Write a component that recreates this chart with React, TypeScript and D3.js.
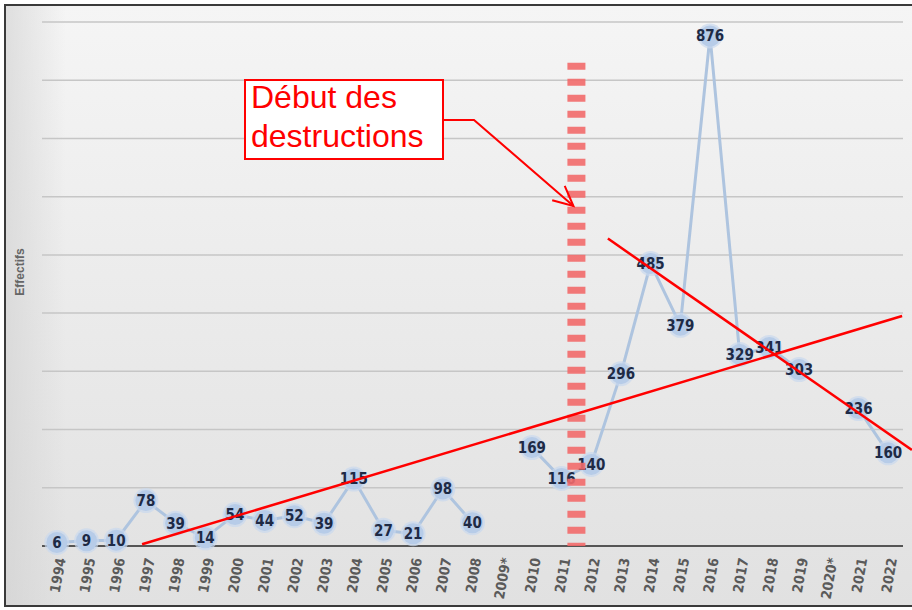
import React from "react";
import * as d3 from "d3";

const years = ["1994","1995","1996","1997","1998","1999","2000","2001","2002","2003","2004","2005","2006","2007","2008","2009*","2010","2011","2012","2013","2014","2015","2016","2017","2018","2019","2020*","2021","2022"];
const effectifs: (number | null)[] = [6,9,10,78,39,14,54,44,52,39,115,27,21,98,40,null,169,116,140,296,485,379,876,329,341,303,null,236,160];
const yTicks = [0,100,200,300,400,500,600,700,800,900];

// annotation anchors in data units (x = category index, y = effectif)
const trendUp = [{ x: 2.87, y: 3 }, { x: 28.47, y: 395 }];
const trendDown = [{ x: 18.56, y: 528 }, { x: 28.8, y: 165 }];
const destructionX = 17.5;
const destructionTop = 830;
const annotationLines = ["Début des", "destructions"];

const W = 912, H = 610;
const plotLeft = 42, plotRight = 903, plotTop = 22, plotBottom = 546;

export default function App() {
  const x = d3.scaleLinear().domain([-0.5, years.length - 0.5]).range([plotLeft, plotRight]);
  const y = d3.scaleLinear().domain([0, 900]).range([plotBottom, plotTop]);
  const pts = effectifs.map((v, i) => ({ i, v }));
  const line = d3.line<{ i: number; v: number | null }>()
    .defined(d => d.v !== null)
    .x(d => x(d.i))
    .y(d => y(d.v as number));
  const tl = d3.line<{ x: number; y: number }>().x(d => x(d.x)).y(d => y(d.y));

  // annotation box geometry
  const bx = 245, by = 80, bw = 198, bh = 79;
  const tipX = x(17.4), tipY = y(584);
  const elbowX = 474, elbowY = 120;
  const ang = Math.atan2(tipY - elbowY, tipX - elbowX);
  const ah = 22, aw = 0.45;
  const a1 = [tipX - ah * Math.cos(ang - aw), tipY - ah * Math.sin(ang - aw)];
  const a2 = [tipX - ah * Math.cos(ang + aw), tipY - ah * Math.sin(ang + aw)];

  const numFont = "Liberation Sans Narrow, DejaVu Sans Condensed, Arial Narrow, sans-serif";

  return (
    <svg width={W} height={H} style={{ position: "absolute", left: 0, top: 0, display: "block" }}>
      <defs>
        <linearGradient id="bg" x1="0" y1="0" x2="0" y2="1">
          <stop offset="0" stopColor="#f5f5f5" />
          <stop offset="1" stopColor="#e1e1e1" />
        </linearGradient>
        <linearGradient id="side" x1="0" y1="0" x2="1" y2="0">
          <stop offset="0" stopColor="#d0d0d0" stopOpacity="0.6" />
          <stop offset="1" stopColor="#d0d0d0" stopOpacity="0" />
        </linearGradient>
      </defs>
      <rect x={0} y={0} width={W} height={H} fill="#ffffff" />
      <rect x={5} y={5} width={W + 10} height={601} fill="url(#bg)" stroke="#3a3a3a" strokeWidth={2} />
      <rect x={6} y={6} width={60} height={599} fill="url(#side)" />

      {yTicks.slice(1).map(t => (
        <line key={t} x1={plotLeft} x2={plotRight} y1={y(t)} y2={y(t)} stroke="#c6c6c6" strokeWidth={1.5} />
      ))}
      <line x1={plotLeft} x2={plotRight} y1={y(0)} y2={y(0)} stroke="#555" strokeWidth={2} />

      <text transform={`translate(24,272) rotate(-90)`} textAnchor="middle" fontFamily="Liberation Sans, Arial, sans-serif" fontWeight="bold" fontSize={12} fill="#666">Effectifs</text>

      {years.map((yr, i) => (
        <text key={yr} transform={`translate(${x(i) + 4},${plotBottom + 12}) rotate(-80)`} textAnchor="end" dy="0.35em"
          fontFamily={numFont} fontWeight="bold" fontSize={14} fill="#5a5a5a">{yr}</text>
      ))}

      <path d={line(pts) || ""} fill="none" stroke="#aec4df" strokeWidth={3} />
      {pts.filter(d => d.v !== null).map(d => (
        <g key={d.i}>
          <circle cx={x(d.i)} cy={y(d.v as number)} r={12.5} fill="#c9d9ee" opacity={0.7} />
          <circle cx={x(d.i)} cy={y(d.v as number)} r={10.5} fill="#b7cce8" />
          <text x={x(d.i)} y={y(d.v as number)} dy="0.36em" textAnchor="middle" fontFamily={numFont} fontWeight="bold" fontSize={15} fill="#1e2a45">{d.v}</text>
        </g>
      ))}

      <line x1={x(destructionX)} x2={x(destructionX)} y1={y(destructionTop)} y2={y(0)} stroke="#f26a6a" strokeOpacity={0.9} strokeWidth={18} strokeDasharray="7 9" />

      <path d={tl(trendUp) || ""} stroke="#ff0000" strokeWidth={2.5} fill="none" />
      <path d={tl(trendDown) || ""} stroke="#ff0000" strokeWidth={2.5} fill="none" />

      <rect x={bx} y={by} width={bw} height={bh} fill="#ffffff" stroke="#ff0000" strokeWidth={2} />
      {annotationLines.map((t, k) => (
        <text key={t} x={bx + 6} y={by + 28 + k * 39} fontFamily="Liberation Sans, Arial, sans-serif" fontSize={32} fill="#ff0000">{t}</text>
      ))}
      <polyline points={`${bx + bw},${elbowY} ${elbowX},${elbowY} ${tipX},${tipY}`} fill="none" stroke="#ff0000" strokeWidth={2} />
      <polyline points={`${a1[0]},${a1[1]} ${tipX},${tipY} ${a2[0]},${a2[1]}`} fill="none" stroke="#ff0000" strokeWidth={2} />
    </svg>
  );
}
